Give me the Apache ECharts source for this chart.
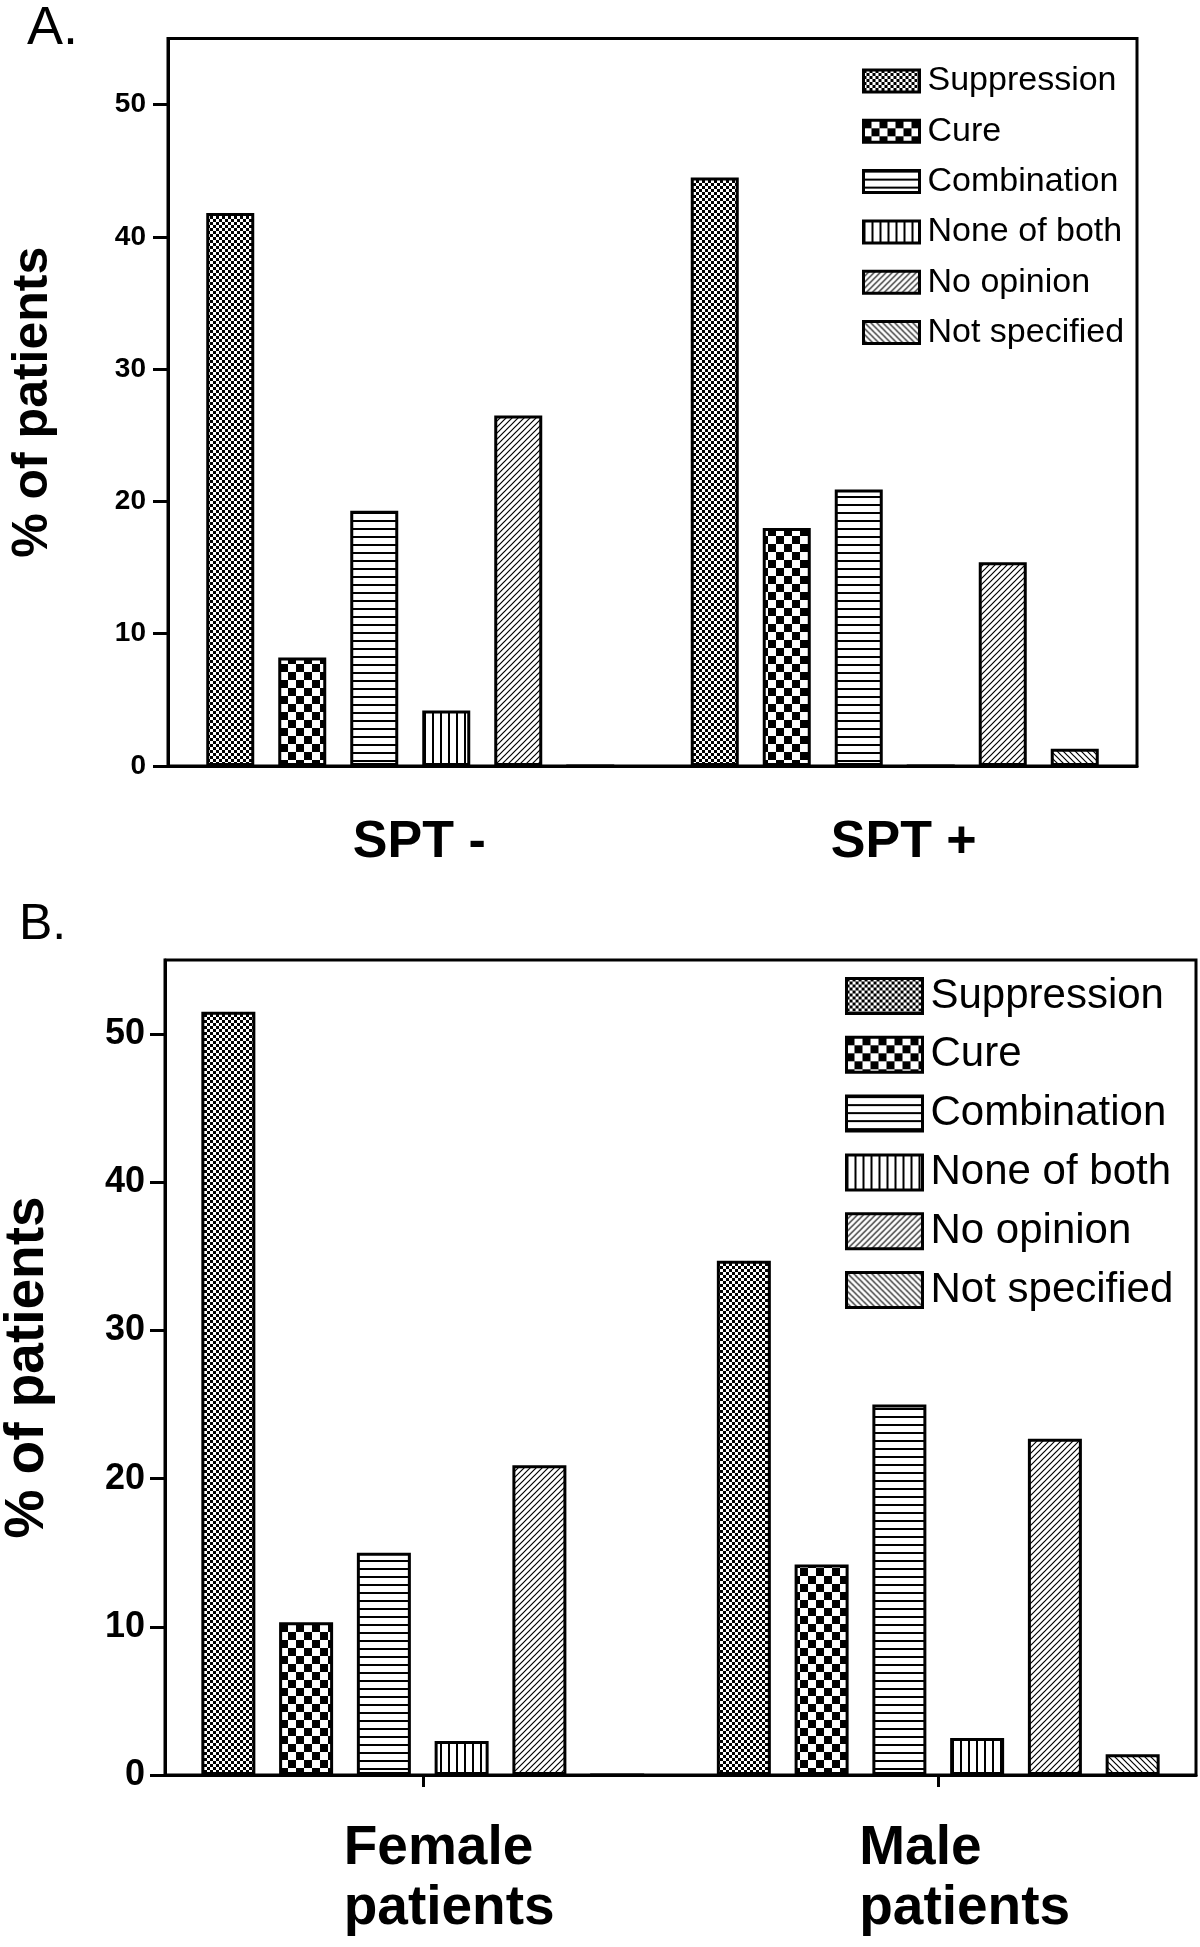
<!DOCTYPE html>
<html>
<head>
<meta charset="utf-8">
<script src="https://cdn.jsdelivr.net/npm/echarts@6/dist/echarts.min.js"></script>
<style>
html,body{margin:0;padding:0;background:#fff;}
#chart{width:1200px;height:1947px;}
</style>
</head>
<body>
<div id="chart"></div>
<script>
// ---------- DATA ----------
const seriesNames = ['Suppression', 'Cure', 'Combination', 'None of both', 'No opinion', 'Not specified'];
const categoriesA = ['SPT -', 'SPT +'];
const categoriesB = ['Female patients', 'Male patients'];

const suppressionA  = [41.8, 44.5];
const cureA         = [8.2, 18.0];
const combinationA  = [19.3, 20.9];
const noneOfBothA   = [4.2, 0];
const noOpinionA    = [26.5, 15.4];
const notSpecifiedA = [0, 1.3];

const suppressionB  = [51.5, 34.7];
const cureB         = [10.3, 14.2];
const combinationB  = [15.0, 25.0];
const noneOfBothB   = [2.3, 2.5];
const noOpinionB    = [20.9, 22.7];
const notSpecifiedB = [0, 1.4];

const yTicks = [0, 10, 20, 30, 40, 50];
const yMax = 55;
const yTitle = '% of patients';

// ---------- STYLE HELPERS ----------
const FONT = '"Liberation Sans", Arial, Helvetica, sans-serif';

function makeTile(w, h, draw) {
  const c = document.createElement('canvas');
  c.width = w; c.height = h;
  const g = c.getContext('2d');
  g.fillStyle = '#fff'; g.fillRect(0, 0, w, h);
  g.fillStyle = '#000'; g.strokeStyle = '#000';
  draw(g, w, h);
  return { image: c, repeat: 'repeat' };
}
function diag(g, w, h, up) {
  g.beginPath();
  if (up) {
    g.moveTo(0, h); g.lineTo(w, 0);
    g.moveTo(-w / 2, h / 2); g.lineTo(w / 2, -h / 2);
    g.moveTo(w / 2, h * 1.5); g.lineTo(w * 1.5, h / 2);
  } else {
    g.moveTo(0, 0); g.lineTo(w, h);
    g.moveTo(-w / 2, h / 2); g.lineTo(w / 2, h * 1.5);
    g.moveTo(w / 2, -h / 2); g.lineTo(w * 1.5, h / 2);
  }
  g.stroke();
}
const patterns = [
  makeTile(6, 6, g => { g.fillRect(0, 0, 3, 3); g.fillRect(3, 3, 3, 3); }),          // Suppression: fine checker
  makeTile(16, 16, g => { g.fillRect(0, 0, 8, 8); g.fillRect(8, 8, 8, 8); }),        // Cure: coarse checker
  makeTile(8, 8, g => { g.fillRect(0, 0, 8, 2); }),                                  // Combination: horizontal
  makeTile(8, 8, g => { g.fillRect(0, 0, 2, 8); }),                                  // None of both: vertical
  makeTile(6, 6, (g, w, h) => { g.lineWidth = 1.2; diag(g, w, h, true); }),         // No opinion: /
  makeTile(6, 6, (g, w, h) => { g.lineWidth = 1.2; diag(g, w, h, false); })          // Not specified: \
];

const dataA = [suppressionA, cureA, combinationA, noneOfBothA, noOpinionA, notSpecifiedA];
const dataB = [suppressionB, cureB, combinationB, noneOfBothB, noOpinionB, notSpecifiedB];

const seriesA = seriesNames.map((name, i) => ({
  name, type: 'bar', xAxisIndex: 0, yAxisIndex: 0, data: dataA[i],
  barWidth: 48, barGap: '50%',
  itemStyle: { color: patterns[i], borderColor: '#000', borderWidth: 3 }
}));
const seriesB = seriesNames.map((name, i) => ({
  name, type: 'bar', xAxisIndex: 1, yAxisIndex: 1, data: dataB[i],
  barWidth: 54, barGap: '44%',
  itemStyle: { color: patterns[i], borderColor: '#000', borderWidth: 3 }
}));

function yAxisCfg(gridIndex, labelSize, margin, nameSize, nameGap) {
  return {
    type: 'value', gridIndex, min: 0, max: yMax,
    splitLine: { show: false },
    axisLine: { show: true, lineStyle: { color: '#000', width: 3 } },
    axisTick: { show: true, length: 15, lineStyle: { color: '#000', width: 3 }, customValues: yTicks },
    axisLabel: { customValues: yTicks, fontSize: labelSize, fontWeight: 'bold', color: '#000', margin, fontFamily: FONT },
    name: yTitle, nameLocation: 'middle', nameGap,
    nameTextStyle: { fontSize: nameSize, fontWeight: 'bold', color: '#000', fontFamily: FONT }
  };
}

function legendCfg(left, top, iw, ih, gap, fs) {
  return {
    data: seriesNames, orient: 'vertical', left, top,
    itemWidth: iw, itemHeight: ih, itemGap: gap, icon: 'rect',
    selectedMode: false, padding: 0,
    itemStyle: { borderColor: '#000', borderWidth: 3 },
    textStyle: { fontFamily: FONT, fontSize: fs, color: '#000', lineHeight: fs, padding: [0, 0, 0, 3] }
  };
}

const chart = echarts.init(document.getElementById('chart'), null, { renderer: 'canvas' });
chart.setOption({
  animation: false,
  backgroundColor: '#fff',
  title: [
    { text: 'A.', left: 27, top: 2, padding: 0, textStyle: { fontSize: 54, fontWeight: 'normal', color: '#000', fontFamily: FONT } },
    { text: 'B.', left: 19, top: 900, padding: 0, textStyle: { fontSize: 50, fontWeight: 'normal', color: '#000', fontFamily: FONT } }
  ],
  legend: [
    legendCfg(862, 64, 56, 22, 16.3, 34),
    legendCfg(845, 975, 76, 35, 16.8, 42)
  ],
  grid: [
    { left: 168, top: 38.5, width: 969, height: 727.5, show: true, borderColor: '#000', borderWidth: 3, backgroundColor: 'transparent', containLabel: false, outerBoundsMode: 'none' },
    { left: 165, top: 960, width: 1031, height: 815, show: true, borderColor: '#000', borderWidth: 3, backgroundColor: 'transparent', containLabel: false, outerBoundsMode: 'none' }
  ],
  xAxis: [
    {
      type: 'category', gridIndex: 0, data: categoriesA,
      axisLine: { show: true, lineStyle: { color: '#000', width: 3 } },
      axisTick: { show: false },
      axisLabel: { interval: 0, fontSize: 52, fontWeight: 'bold', color: '#000', margin: 51, padding: [0, 0, 0, 18], fontFamily: FONT }
    },
    {
      type: 'category', gridIndex: 1, data: categoriesB,
      axisLine: { show: true, lineStyle: { color: '#000', width: 3 } },
      axisTick: { show: true, alignWithLabel: true, length: 12, lineStyle: { color: '#000', width: 3 } },
      axisLabel: {
        interval: 0, margin: 44, padding: [0, 0, 0, 54],
        formatter: v => v.split(' ').map(s => '{a|' + s + '}').join('\n'),
        rich: { a: { width: 212, align: 'left', fontSize: 55, fontWeight: 'bold', lineHeight: 60, color: '#000', fontFamily: FONT } }
      }
    }
  ],
  yAxis: [
    yAxisCfg(0, 28, 22, 50, 110),
    yAxisCfg(1, 36, 20, 55, 110)
  ],
  series: seriesA.concat(seriesB)
});
</script>
</body>
</html>
